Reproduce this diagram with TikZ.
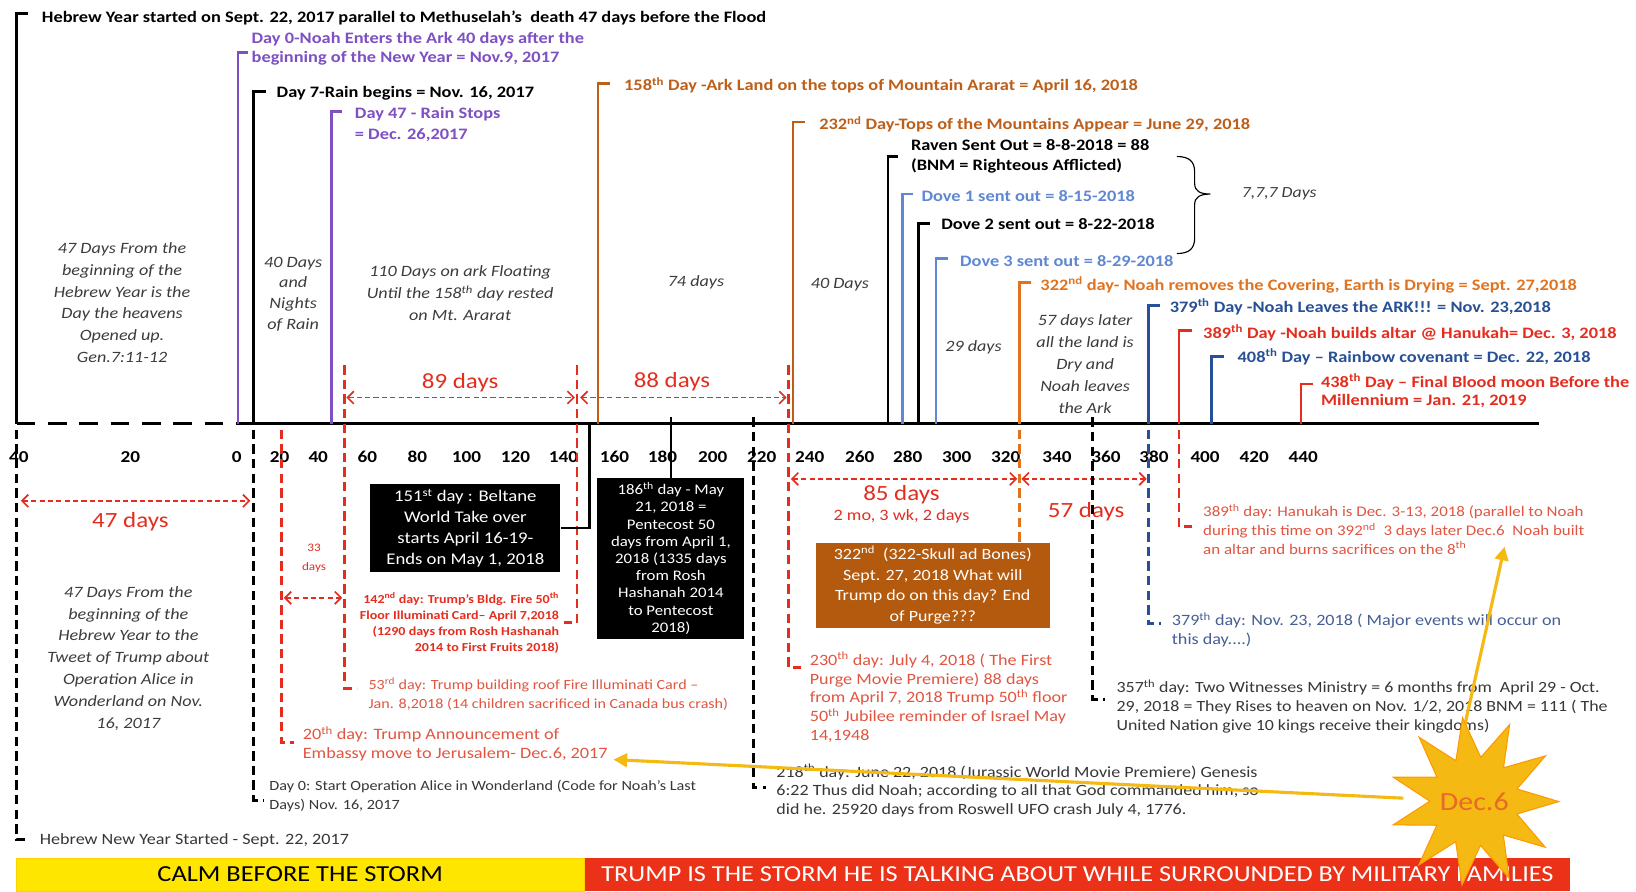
\documentclass[tikz,border=0pt]{standalone}
\usepackage{fontspec}
\setmainfont{Carlito}[FakeStretch=1.15]
\usetikzlibrary{arrows.meta,shapes.geometric}
\definecolor{cpurple}{RGB}{125,80,195}
\definecolor{cbrown}{RGB}{190,95,25}
\definecolor{corange}{RGB}{225,115,30}
\definecolor{clblue}{RGB}{95,135,210}
\definecolor{cdblue}{RGB}{40,80,150}
\definecolor{cred}{RGB}{228,45,30}
\definecolor{csalmon}{RGB}{225,85,65}
\definecolor{cgray}{RGB}{55,55,55}
\definecolor{cnote}{RGB}{60,60,60}
\definecolor{cboxbrown}{RGB}{180,90,15}
\definecolor{cyellow}{RGB}{255,230,0}
\definecolor{cbanred}{RGB}{235,50,25}
\definecolor{cgold}{RGB}{245,185,20}
\definecolor{cmidblue}{RGB}{70,95,150}
\definecolor{cdec}{RGB}{232,105,40}
\begin{document}
\begin{tikzpicture}[x=1pt,y=-1pt,
  lbl/.style={anchor=west, inner sep=0pt, font=\fontsize{15.3}{18}\selectfont\bfseries, align=left},
  lbltop/.style={anchor=north west, inner sep=0pt, font=\fontsize{15.3}{19}\selectfont\bfseries, align=left},
  note/.style={inner sep=0pt, font=\fontsize{15.1}{21}\selectfont\itshape, text=cnote, align=center},
  low/.style={anchor=north west, inner sep=0pt, font=\fontsize{15}{18}\selectfont, align=left},
  mk/.style={line width=2.6pt},
  dashv/.style={line width=2.8pt, dash pattern=on 9pt off 5pt},
  meas/.style={cred, line width=1.6pt, dash pattern=on 5pt off 3pt, {Straight Barb[length=6pt,width=12pt]}-{Straight Barb[length=6pt,width=12pt]}},
  tick/.style={inner sep=0pt, font=\fontsize{16}{18}\selectfont\bfseries},
  big/.style={inner sep=0pt, font=\fontsize{20.8}{22}\selectfont, text=cred},
  blackbox/.style={fill=black, text=white, inner sep=0pt, align=center},
  goldarrow/.style={cgold, line width=3pt, -{Triangle[length=13pt,width=13pt]}}
]
\path[use as bounding box, fill=white] (0,0) rectangle (1568,854);

% ---------- axis ----------
\draw[line width=3.2pt, dash pattern=on 18pt off 12pt] (16,406) -- (228,406);
\draw[line width=3.2pt] (228,406) -- (1475,406);

% ---------- upper markers ----------
\node[lbl] (t0) at (40,17) {Hebrew Year started on Sept. 22, 2017 parallel to Methuselah's\ \ death 47 days before the Flood};
\draw[mk] (16,406) -- (16,13) -- (27,13);

\node[lbltop, text=cpurple, font=\fontsize{15.3}{18}\selectfont\bfseries] (t1) at (241,31) {Day 0-Noah Enters the Ark 40 days after the\\beginning of the New Year = Nov.9, 2017};
\draw[mk, cpurple] (228,406) -- (228,50) -- (238,50);

\node[lbl] (t2) at (265,89) {Day 7-Rain begins = Nov. 16, 2017};
\draw[mk] (243,406) -- (243,88) -- (255,88);

\node[lbltop, text=cpurple, font=\fontsize{15.3}{20}\selectfont\bfseries] (t3) at (340,103) {Day 47 - Rain Stops\\= Dec. 26,2017};
\draw[mk, cpurple] (318,406) -- (318,107) -- (328,107);

\node[lbl, text=cbrown] (t4) at (598,82) {158\textsuperscript{th} Day -Ark Land on the tops of Mountain Ararat = April 16, 2018};
\draw[mk, cbrown] (573,406) -- (573,80) -- (585,80);

\node[lbl, text=cbrown] (t5) at (785,119) {232\textsuperscript{nd} Day-Tops of the Mountains Appear = June 29, 2018};
\draw[mk, cbrown] (760,406) -- (760,117) -- (772,117);

\node[lbltop, font=\fontsize{15.3}{20}\selectfont\bfseries] (t6) at (873,133) {Raven Sent Out = 8-8-2018 = 88\\(BNM = Righteous Afflicted)};
\draw[mk] (851,406) -- (851,150) -- (861,150);

\node[lbl, text=clblue] (t7) at (883,188) {Dove 1 sent out = 8-15-2018};
\draw[mk, clblue] (865,406) -- (865,186) -- (875,186);

\node[lbl] (t8) at (902,215) {Dove 2 sent out = 8-22-2018};
\draw[mk] (880,406) -- (880,214) -- (891,214);

\node[lbl, text=clblue] (t9) at (920,250) {Dove 3 sent out = 8-29-2018};
\draw[mk, clblue] (897,406) -- (897,248) -- (909,248);

\node[lbl, text=corange] (t10) at (997,273) {322\textsuperscript{nd} day- Noah removes the Covering, Earth is Drying = Sept. 27,2018};
\draw[mk, corange] (977,406) -- (977,271) -- (988,271);

\node[lbl, text=cdblue] (t11) at (1121,294) {379\textsuperscript{th} Day -Noah Leaves the ARK!!! = Nov. 23,2018};
\draw[mk, cdblue] (1101,406) -- (1101,293) -- (1112,293);

\node[lbl, text=cred] (t12) at (1153,319) {389\textsuperscript{th} Day -Noah builds altar @ Hanukah= Dec. 3, 2018};
\draw[mk, cred] (1130,406) -- (1130,317) -- (1142,317);

\node[lbl, text=cdblue] (t13) at (1186,342) {408\textsuperscript{th} Day -- Rainbow covenant = Dec. 22, 2018};
\draw[mk, cdblue] (1161,406) -- (1161,342) -- (1173,342);

\node[lbltop, text=cred, font=\fontsize{15.3}{18}\selectfont\bfseries] (t14) at (1266,358) {438\textsuperscript{th} Day -- Final Blood moon Before the\\Millennium = Jan. 21, 2019};
\draw[mk, cred] (1247,406) -- (1247,368) -- (1258,368);

% brace
\draw[line width=1.1pt] (1128,150) .. controls (1140,150) and (1145,155) .. (1145,165) -- (1145,176)
  .. controls (1145,183) and (1150,186) .. (1160,186)
  .. controls (1150,186) and (1145,189) .. (1145,196) -- (1145,228)
  .. controls (1145,238) and (1140,243) .. (1128,243);
\node[anchor=west, inner sep=0pt, font=\fontsize{14.8}{18}\selectfont\itshape, text=cnote] (n777) at (1190,186) {7,7,7 Days};

% ---------- italic notes ----------
\node[note] (n1) at (117,290) {47 Days From the\\beginning of the\\Hebrew Year is the\\Day the heavens\\Opened up.\\Gen.7:11-12};
\node[note, font=\fontsize{15.1}{20}\selectfont\itshape] (n2) at (281,282) {40 Days\\and\\Nights\\of Rain};
\node[note] (n3) at (441,281) {110 Days on ark Floating\\Until the 158\textsuperscript{th} day rested\\on Mt. Ararat};
\node[note] (n4) at (667,271) {74 days};
\node[note] (n5) at (805,273) {40 Days};
\node[note] (n6) at (933,333) {29 days};
\node[note] (n7) at (1040,349) {57 days later\\all the land is\\Dry and\\Noah leaves\\the Ark};
\node[note] (n8) at (123,631) {47 Days From the\\beginning of the\\Hebrew Year to the\\Tweet of Trump about\\Operation Alice in\\Wonderland on Nov.\\16, 2017};

% ---------- tick labels ----------
\foreach \v/\x in {40/18,20/125,0/227,20/268,40/305,60/352,80/400,100/447,120/494,140/540,160/589,180/635,200/683,220/730,240/776,260/824,280/870,300/917,320/964,340/1013,360/1060,380/1106,400/1155,420/1202,440/1249}
  \node[tick] at (\x,438) {\v};

% ---------- red dashed day lines ----------
\draw[dashv, cred] (330,350) -- (330,660) -- (342,660);
\draw[dashv, cred] (553,350) -- (553,597) -- (541,597);
\draw[dashv, cred] (756,350) -- (756,640) -- (768,640);
\draw[dashv, cred] (270,412) -- (270,712) -- (282,712);

\draw[meas] (332,381) -- (551,381);
\node[big] (m89) at (441,367) {89 days};
\draw[meas] (556,381) -- (754,381);
\node[big] (m88) at (644,366) {88 days};
\draw[meas] (20,480) -- (240,480);
\node[big] (m47) at (125,500) {47 days};
\draw[meas] (272,573) -- (328,573);
\node[inner sep=0pt, font=\fontsize{11}{19}\selectfont, text=cred, align=center] (m33) at (301,535) {33\\days};
\draw[meas] (758,459) -- (975,459);
\node[big] (m85) at (864,474) {85 days};
\node[inner sep=0pt, font=\fontsize{15.2}{16}\selectfont, text=cred] (m85b) at (864,495) {2 mo, 3 wk, 2 days};
\draw[meas] (979,459) -- (1099,459);
\node[big] (m57) at (1041,490) {57 days};

% ---------- lower black/colour dashed lines ----------
\draw[dashv] (16,412) -- (16,805) -- (28,805);
\node[anchor=west, inner sep=0pt, font=\fontsize{15.1}{16}\selectfont, text=cgray] (h1) at (38,805) {Hebrew New Year Started - Sept. 22, 2017};

\draw[dashv] (243,412) -- (243,767) -- (253,767);
\node[low, font=\fontsize{13.5}{18}\selectfont, text=cgray] (d0) at (258,748) {Day 0: Start Operation Alice in Wonderland (Code for Noah's Last\\Days) Nov. 16, 2017};

\node[low, font=\fontsize{15.2}{18}\selectfont, text=csalmon] (d20) at (290,696) {20\textsuperscript{th} day: Trump Announcement of\\Embassy move to Jerusalem- Dec.6, 2017};

\node[low, font=\fontsize{13.4}{18}\selectfont, text=csalmon] (d53) at (353,649) {53\textsuperscript{rd} day: Trump building roof Fire Illuminati Card --\\Jan. 8,2018 (14 children sacrificed in Canada bus crash)};

\node[anchor=north east, inner sep=0pt, align=right, font=\fontsize{11.7}{15.5}\selectfont\bfseries, text=cred] (d142) at (536,568) {142\textsuperscript{nd} day: Trump's Bldg. Fire 50\textsuperscript{th}\\Floor Illuminati Card-- April 7,2018\\(1290 days from Rosh Hashanah\\2014 to First Fruits 2018)};

\node[low, font=\fontsize{15.1}{18}\selectfont, text=csalmon] (d230) at (776,625) {230\textsuperscript{th} day: July 4, 2018 ( The First\\Purge Movie Premiere) 88 days\\from April 7, 2018 Trump 50\textsuperscript{th} floor\\50\textsuperscript{th} Jubilee reminder of Israel May\\14,1948};

\draw[dashv] (722,400) -- (722,755) -- (734,755);
\node[low, font=\fontsize{15}{18}\selectfont, text=cgray] (d218) at (744,732) {218\textsuperscript{th} day: June 22, 2018 (Jurassic World Movie Premiere) Genesis\\6:22 Thus did Noah; according to all that God commanded him, so\\did he. 25920 days from Roswell UFO crash July 4, 1776.};

\draw[dashv] (1047,400) -- (1047,670) -- (1059,670);
\node[low, font=\fontsize{14.9}{18}\selectfont, text=cgray] (d357) at (1070,651) {357\textsuperscript{th} day: Two Witnesses Ministry = 6 months from\ \ April 29 - Oct.\\29, 2018 = They Rises to heaven on Nov. 1/2, 2018 BNM = 111 ( The\\United Nation give 10 kings receive their kingdoms)};

\draw[dashv, cdblue] (1101,412) -- (1101,598) -- (1113,598);
\node[low, font=\fontsize{15.1}{18}\selectfont, text=cmidblue] (d379) at (1123,587) {379\textsuperscript{th} day: Nov. 23, 2018 ( Major events will occur on\\this day....)};

\draw[dashv, cred] (1130,412) -- (1130,505) -- (1142,505);
\node[low, font=\fontsize{14.1}{18}\selectfont, text=csalmon] (d389) at (1153,483) {389\textsuperscript{th} day: Hanukah is Dec. 3-13, 2018 (parallel to Noah\\during this time on 392\textsuperscript{nd}\ \ 3 days later Dec.6\ \ Noah built\\an altar and burns sacrifices on the 8\textsuperscript{th}};

% ---------- boxes ----------
\node[blackbox, minimum width=182pt, minimum height=85pt, font=\fontsize{15.6}{20}\selectfont] (b151) at (446,506) {151\textsuperscript{st} day : Beltane\\World Take over\\starts April 16-19-\\Ends on May 1, 2018};
\draw[line width=2.2pt] (565,406) |- (b151.east);

\node[blackbox, minimum width=141pt, minimum height=154pt, font=\fontsize{14}{16.5}\selectfont] (b186) at (643,535) {186\textsuperscript{th} day - May\\21, 2018 =\\Pentecost 50\\days from April 1,\\2018 (1335 days\\from Rosh\\Hashanah 2014\\to Pentecost\\2018)};
\draw[line width=2.2pt] (643,400) -- (b186.north);

\node[fill=cboxbrown, text=white, inner sep=0pt, align=center, minimum width=224pt, minimum height=82pt, font=\fontsize{15}{20}\selectfont] (b322) at (894,561) {322\textsuperscript{nd}\ \ (322-Skull ad Bones)\\Sept. 27, 2018 What will\\Trump do on this day? End\\of Purge???};
\draw[dashv, corange] (977,412) -- (b322.north -| 977,0);

% ---------- banners ----------
\node[fill=cyellow, draw=cyellow!80!orange, minimum width=545pt, minimum height=32pt, inner sep=0pt, anchor=north west, font=\fontsize{22}{24}\selectfont] (ban1) at (15,822) {CALM BEFORE THE STORM};
\node[fill=cbanred, minimum width=945pt, minimum height=32pt, inner sep=0pt, anchor=north west, text=white, font=\fontsize{21.9}{24}\selectfont] (ban2) at (560,822) {TRUMP IS THE STORM HE IS TALKING ABOUT WHILE SURROUNDED BY MILITARY FAMILIES};

% ---------- star and arrows ----------
\coordinate (sc) at (1413,768);
\coordinate (tipA) at (588,728);
\coordinate (tipB) at (1442,524);
\draw[goldarrow] (1345,765) -- (tipA);
\draw[goldarrow] (1395,735) -- (tipB);
\node[star, star points=11, star point ratio=1.9, minimum size=162pt, inner sep=0pt, fill=cgold, draw=orange!80!yellow, line width=1pt, rotate=8] (star) at (sc) {};
\node[inner sep=0pt, text=cdec, font=\fontsize{25}{26}\selectfont] (dec) at (sc) {Dec.6};

\end{tikzpicture}
\end{document}
